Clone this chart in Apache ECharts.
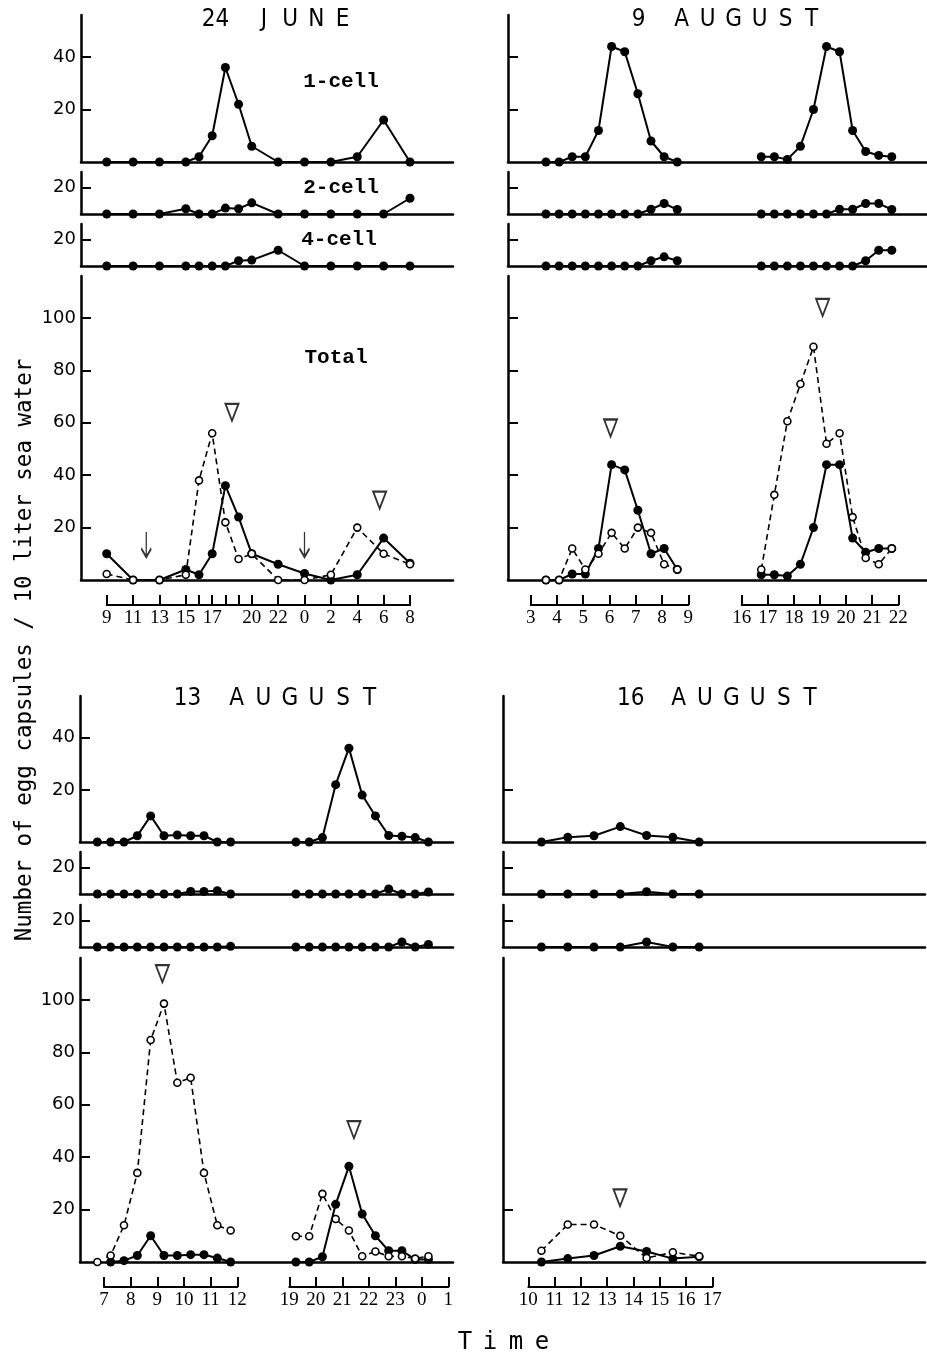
<!DOCTYPE html>
<html><head><meta charset="utf-8">
<script src="https://cdn.jsdelivr.net/npm/echarts@6/dist/echarts.min.js"></script>
<style>html,body{margin:0;padding:0;background:#fff}#c{width:927px;height:1361px}</style>
</head><body><div id="c"></div>
<script>
// ================= DATA =================
// ---- 24 JUNE (hours; 24+ = next day) ----
const jun24Times       = [9,11,13,15,16,17,18,19,20,22,24,26,28,30,32];
const jun24Cell1       = [0,0,0,0,2,10,36,22,6,0,0,0,2,16,0];
const jun24Cell2       = [0,0,0,4,0,0,4.5,4,8.5,0,0,0,0,0,12];
const jun24Cell4       = [0,0,0,0,0,0,0,4,4.5,12,0,0,0,0,0];
const jun24TotalFilled = [10,0,0,4,2,10,36,24,10,6,2.5,0,2,16,6.4];
const jun24TotalOpen   = [2.3,0,0,2,38,56,22,8,10,0,0,2,20,10,6];
const jun24Peaks       = [[18.5,64],[29.7,30.5]];
const jun24Arrows      = [[12,13.5],[24,13.5]];
const jun24TickHours   = [9,11,13,15,16,17,18,19,20,22,24,26,28,30,32];
const jun24LabelHours  = [9,11,13,15,17,20,22,24,26,28,30,32];

// ---- 9 AUGUST ----
const aug9TimesA       = [3.58,4.08,4.58,5.08,5.58,6.08,6.58,7.08,7.58,8.08,8.58];
const aug9TimesB       = [16.75,17.25,17.75,18.25,18.75,19.25,19.75,20.25,20.75,21.25,21.75];
const aug9Cell1A       = [0,0,2,2,12,44,42,26,8,2,0];
const aug9Cell1B       = [2,2,1,6,20,44,42,12,4,2.5,2];
const aug9Cell2A       = [0,0,0,0,0,0,0,0,3.6,8,3.4];
const aug9Cell2B       = [0,0,0,0,0,0,3.6,3.6,8,8,3.4];
const aug9Cell4A       = [0,0,0,0,0,0,0,0,4,7,4];
const aug9Cell4B       = [0,0,0,0,0,0,0,0,4,12,12];
const aug9TotalFilledA = [0,0,2.3,2.3,12,44,42,26.6,10,12,4];
const aug9TotalFilledB = [2,2,1.5,6,20,44,44,16,10.6,12,12];
const aug9TotalOpenA   = [0,0,12,4,10,18,12,20,18,6,4];
const aug9TotalOpenB   = [4,32.5,60.6,74.8,89,52,56,24,8.4,6,12];
const aug9PeaksA       = [[6.04,58]];
const aug9PeaksB       = [[19.1,104]];
const aug9TicksA       = [3,4,5,6,7,8,9];
const aug9TicksB       = [16,17,18,19,20,21,22];

// ---- 13 AUGUST ----
const aug13TimesA       = [6.75,7.25,7.75,8.25,8.75,9.25,9.75,10.25,10.75,11.25,11.75];
const aug13TimesB       = [19.25,19.75,20.25,20.75,21.25,21.75,22.25,22.75,23.25,23.75,24.25];
const aug13Cell1A       = [0,0,0,2.4,10,2.4,2.7,2.4,2.4,0,0];
const aug13Cell1B       = [0,0,1.7,22,36,18,10,2.5,2.2,1.7,0];
const aug13Cell2A       = [0,0,0,0,0,0,0,2,2,2.5,0];
const aug13Cell2B       = [0,0,0,0,0,0,0,3.8,0,0,1.5];
const aug13Cell4A       = [0,0,0,0,0,0,0,0,0,0,0.5];
const aug13Cell4B       = [0,0,0,0,0,0,0,0,3.8,0,2];
const aug13TotalFilledA = [null,0,0.5,2.5,10,2.5,2.5,2.8,2.8,1.5,0];
const aug13TotalFilledB = [0,0,2,22,36.5,18.3,10,4.3,4.3,1,1];
const aug13TotalOpenA   = [0,2.5,14,34,84.7,98.6,68.4,70.3,34,14,12];
const aug13TotalOpenB   = [9.8,9.8,26,16.4,12,2.2,4,2.2,2.2,1.3,2.2];
const aug13PeaksA       = [[9.19,110]];
const aug13PeaksB       = [[21.44,50.5]];
const aug13TicksA       = [7,8,9,10,11,12];
const aug13TicksB       = [19,20,21,22,23,24,25];

// ---- 16 AUGUST ----
const aug16Times       = [10.5,11.5,12.5,13.5,14.5,15.5,16.5];
const aug16Cell1       = [0,1.8,2.4,5.9,2.5,1.8,0];
const aug16Cell2       = [0,0,0,0,1.8,0,0];
const aug16Cell4       = [0,0,0,0,3.8,0,0];
const aug16TotalFilled = [0,1.3,2.5,6,4,1.3,2];
const aug16TotalOpen   = [4.3,14.3,14.3,10,1.5,3.7,2.2];
const aug16Peaks       = [[13.49,24.5]];
const aug16Ticks       = [10,11,12,13,14,15,16,17];

// ---- text ----
const titles = [
  {num:'24', word:'JUNE'},
  {num:'9',  word:'AUGUST'},
  {num:'13', word:'AUGUST'},
  {num:'16', word:'AUGUST'}
];
const subLabels = ['1-cell','2-cell','4-cell','Total'];
const yTitle = 'Number of egg capsules / 10 liter sea water';
const xTitle = 'Time';

// ================= LAYOUT =================
const SANS  = "'DejaVu Sans', sans-serif";
const COND  = "'Liberation Sans Narrow','DejaVu Sans Condensed','DejaVu Sans', sans-serif";
const SERIF = "'Liberation Serif', serif";
const MONO  = "'Liberation Mono', monospace";
const SMONO = "'DejaVu Sans Mono', monospace";

const ROWS = {
  top:    {cell1:[15,162], cell2:[172,214], cell4:[224,266], total:[276,580], ruler:605},
  bottom: {cell1:[696,842], cell2:[852,894], cell4:[905,947], total:[958,1262], ruler:1287}
};
const YMAX = {cell1:56, cell2:32, cell4:32, total:116};

const panels = [
  {row:'top', axisX:81, right:453, showLabels:true,
   yTicks:{cell1:[20,40], cell2:[20], cell4:[20], total:[20,40,60,80,100]},
   title:{t:titles[0], numX:215.5, x0:264, pitch:26.2},
   segments:[{h0:9,h1:32,px0:106.7,px1:410, ticks:jun24TickHours, labels:jun24LabelHours, times:jun24Times,
     cell1:jun24Cell1, cell2:jun24Cell2, cell4:jun24Cell4, totalFilled:jun24TotalFilled, totalOpen:jun24TotalOpen,
     peaks:jun24Peaks, arrows:jun24Arrows}]},
  {row:'top', axisX:508, right:927, showLabels:false,
   yTicks:{cell1:[20,40], cell2:[20], cell4:[20], total:[20,40,60,80,100]},
   title:{t:titles[1], numX:638.5, x0:681.7, pitch:26},
   segments:[
    {h0:3,h1:9,px0:530.7,px1:688.3, ticks:aug9TicksA, labels:aug9TicksA, times:aug9TimesA,
     cell1:aug9Cell1A, cell2:aug9Cell2A, cell4:aug9Cell4A, totalFilled:aug9TotalFilledA, totalOpen:aug9TotalOpenA, peaks:aug9PeaksA},
    {h0:16,h1:22,px0:741.7,px1:898.3, ticks:aug9TicksB, labels:aug9TicksB, times:aug9TimesB,
     cell1:aug9Cell1B, cell2:aug9Cell2B, cell4:aug9Cell4B, totalFilled:aug9TotalFilledB, totalOpen:aug9TotalOpenB, peaks:aug9PeaksB}]},
  {row:'bottom', axisX:80, right:453, showLabels:true,
   yTicks:{cell1:[20,40], cell2:[20], cell4:[20], total:[20,40,60,80,100]},
   title:{t:titles[2], numX:187.5, x0:236.7, pitch:26.6},
   segments:[
    {h0:7,h1:12,px0:104,px1:237.3, ticks:aug13TicksA, labels:aug13TicksA, times:aug13TimesA,
     cell1:aug13Cell1A, cell2:aug13Cell2A, cell4:aug13Cell4A, totalFilled:aug13TotalFilledA, totalOpen:aug13TotalOpenA, peaks:aug13PeaksA},
    {h0:19,h1:25,px0:289.3,px1:448.3, ticks:aug13TicksB, labels:aug13TicksB, times:aug13TimesB,
     cell1:aug13Cell1B, cell2:aug13Cell2B, cell4:aug13Cell4B, totalFilled:aug13TotalFilledB, totalOpen:aug13TotalOpenB, peaks:aug13PeaksB}]},
  {row:'bottom', axisX:503, right:925, showLabels:false,
   yTicks:{cell1:[20], cell2:[20], cell4:[20], total:[20]},
   title:{t:titles[3], numX:630.8, x0:678.7, pitch:26.3},
   segments:[{h0:10,h1:17,px0:528.3,px1:712.3, ticks:aug16Ticks, labels:aug16Ticks, times:aug16Times,
     cell1:aug16Cell1, cell2:aug16Cell2, cell4:aug16Cell4, totalFilled:aug16TotalFilled, totalOpen:aug16TotalOpen, peaks:aug16Peaks}]}
];

// ================= BUILD =================
const grids=[], xAxes=[], yAxes=[], series=[], graphics=[];
function addGrid(g, xa, ya){
  const i = grids.length;
  grids.push(g);
  xAxes.push(Object.assign({gridIndex:i}, xa));
  yAxes.push(Object.assign({gridIndex:i}, ya));
  return i;
}
function pts(xs, ys){
  const out=[];
  xs.forEach((x,i)=>{ if(ys[i]!=null) out.push([x, ys[i]]); });
  return out;
}
function lineSeries(gi, xs, ys, filled){
  return {type:'line', xAxisIndex:gi, yAxisIndex:gi, data:pts(xs,ys), clip:false,
    symbol:'circle', symbolSize: filled?9:7, showSymbol:true, silent:true, animation:false,
    itemStyle: filled ? {color:'#000'} : {color:'#fff', borderColor:'#000', borderWidth:1.6},
    lineStyle: {color:'#000', width: filled?2:1.6, type: filled?'solid':[6,4]},
    z: filled?3:4};
}
function txt(text, x, y, size, family, opts){
  return Object.assign({type:'text', x, y, silent:true, z:100,
    style:Object.assign({text, fill:'#000', fontSize:size, fontFamily:family,
      align:'center', verticalAlign:'middle', textAlign:'center', textVerticalAlign:'middle'}, (opts&&opts.style)||{})},
    (opts&&opts.el)||{});
}

const AX = {color:'#000', width:2.5};
panels.forEach(p=>{
  const R = ROWS[p.row];
  ['cell1','cell2','cell4','total'].forEach(k=>{
    const [top,bottom] = R[k];
    const ticks = p.yTicks[k];
    addGrid({left:p.axisX, top, width:p.right-p.axisX, height:bottom-top},
      {type:'value', min:0, max:1, axisLine:{show:true, onZero:false, lineStyle:AX},
       axisTick:{show:false}, axisLabel:{show:false}, splitLine:{show:false}},
      {type:'value', min:0, max:YMAX[k], axisLine:{show:true, onZero:false, lineStyle:AX},
       axisTick:{show:true, inside:true, length:10, lineStyle:{color:'#000', width:2}, customValues:ticks},
       axisLabel:{show:p.showLabels, customValues:ticks, margin:5, color:'#000', fontSize:18, fontFamily:SANS},
       splitLine:{show:false}});
    p.segments.forEach(s=>{
      const gi = addGrid({left:s.px0, top, width:s.px1-s.px0, height:bottom-top},
        {type:'value', min:s.h0, max:s.h1, show:false, splitLine:{show:false}},
        {type:'value', min:0, max:YMAX[k], show:false, splitLine:{show:false}});
      if(k==='total'){
        series.push(lineSeries(gi, s.times, s.totalFilled, true));
        series.push(lineSeries(gi, s.times, s.totalOpen, false));
        if(s.peaks) series.push({type:'scatter', xAxisIndex:gi, yAxisIndex:gi, data:s.peaks, clip:false,
          symbol:'triangle', symbolRotate:180, symbolSize:[13,17], silent:true, animation:false, z:5,
          itemStyle:{color:'#fff', borderColor:'#000', borderWidth:2}});
        if(s.arrows) series.push({type:'scatter', xAxisIndex:gi, yAxisIndex:gi, data:s.arrows, clip:false,
          symbol:'path://M5 0 L5 26 M0 17 L5 26 L10 17', symbolSize:[10,25], silent:true, animation:false, z:5,
          itemStyle:{color:'rgba(0,0,0,0)', borderColor:'#000', borderWidth:2}});
      } else {
        series.push(lineSeries(gi, s.times, s[k], true));
      }
    });
  });
  // time rulers
  p.segments.forEach(s=>{
    addGrid({left:s.px0, top:R.ruler-20, width:s.px1-s.px0, height:20},
      {type:'value', min:s.h0, max:s.h1,
       axisLine:{show:true, onZero:false, lineStyle:{color:'#000', width:2}},
       axisTick:{show:true, inside:true, length:10, customValues:s.ticks, lineStyle:{color:'#000', width:2}},
       axisLabel:{show:true, customValues:s.labels, formatter:v=>String(v%24), margin:4,
         fontFamily:SERIF, fontSize:19, color:'#000'},
       splitLine:{show:false}},
      {type:'value', min:0, max:1, show:false, splitLine:{show:false}});
  });
  // title
  const ty = p.row==='top' ? 20 : 699;
  graphics.push(txt(p.title.t.num, p.title.numX, ty, 24, COND));
  p.title.t.word.split('').forEach((c,i)=> graphics.push(txt(c, p.title.x0 + i*p.title.pitch, ty, 24, COND)));
});

// sub-panel labels (24 June only)
const subPos = [[341,82],[341,188],[339,240],[336,358]];
subLabels.forEach((s,i)=> graphics.push(txt(s, subPos[i][0], subPos[i][1], 21, MONO, {style:{fontWeight:'bold'}})));
// y title
graphics.push(txt(yTitle, 25, 650, 22.5, SMONO, {el:{rotation:Math.PI/2}}));
// x title
const tX = [465, 490, 516, 542];
xTitle.split('').forEach((c,i)=> graphics.push(txt(c, tX[i], 1343, 24, SMONO)));

const chart = echarts.init(document.getElementById('c'), null, {renderer:'canvas'});
chart.setOption({
  animation:false, backgroundColor:'#fff',
  grid:grids, xAxis:xAxes, yAxis:yAxes, series, graphic:graphics
});
</script></body></html>
